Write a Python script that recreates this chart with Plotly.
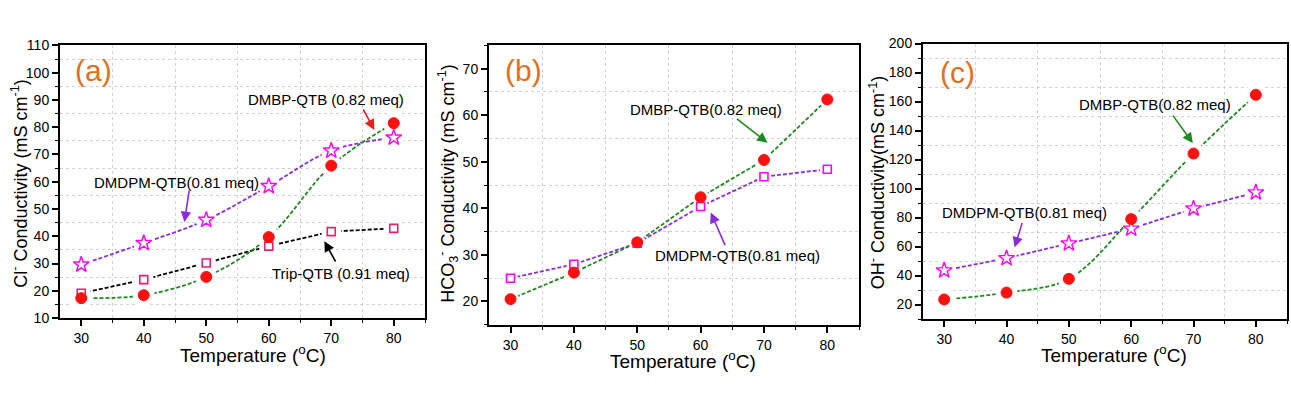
import plotly.graph_objects as go

# ---------------- data ----------------
temps = [30, 40, 50, 60, 70, 80]

a_dmbp = [17.3, 18.4, 25.1, 39.7, 65.9, 81.5]
a_dmdpm = [29.6, 37.5, 46.0, 58.4, 71.4, 76.2]
a_trip = [19.1, 24.1, 30.2, 36.4, 41.7, 42.9]

b_dmbp = [20.5, 26.2, 32.7, 42.4, 50.4, 63.4]
b_dmdpm = [25.0, 28.0, 32.5, 40.4, 46.8, 48.4]

c_dmbp = [23.5, 28.2, 37.7, 78.9, 124.1, 164.6]
c_dmdpm = [43.5, 51.9, 62.1, 72.3, 86.2, 97.3]

FONT = "Liberation Sans, Arial, sans-serif"
GREEN = "#1f8a1f"
PURPLE = "#8a2be2"
BLACK = "#000000"
RED = "#ff1010"
MAGENTA = "#ff00ff"
CRIMSON = "#e8206e"
ORANGE = "#e07020"
DASH = "4px,2px"
GRID = "#d2d2d2"

fig = go.Figure()


def add_series(xa, ya, y, line_color, shape, halo):
    fig.add_trace(go.Scatter(
        x=temps, y=y, mode="lines", xaxis=xa, yaxis=ya,
        line=dict(color=line_color, width=1.8, dash=DASH, shape=shape, smoothing=1.0),
        hoverinfo="skip", showlegend=False))
    fig.add_trace(go.Scatter(
        x=temps, y=y, mode="markers", xaxis=xa, yaxis=ya,
        marker=dict(symbol="circle", size=halo, color="white", line=dict(width=0)),
        hoverinfo="skip", showlegend=False))


def add_markers(xa, ya, y, m_symbol, m_color, m_size, lw):
    fig.add_trace(go.Scatter(
        x=temps, y=y, mode="markers", xaxis=xa, yaxis=ya,
        marker=dict(symbol=m_symbol, size=m_size, color=m_color,
                    line=dict(color=m_color, width=lw)),
        showlegend=False))


# panel (a)
add_series("x", "y", a_trip, BLACK, "linear", 20)
add_series("x", "y", a_dmdpm, PURPLE, "spline", 21)
add_series("x", "y", a_dmbp, GREEN, "spline", 22)
add_markers("x", "y", a_trip, "square-open", CRIMSON, 8, 1.6)
add_markers("x", "y", a_dmdpm, "star-open", MAGENTA, 12, 1.4)
add_markers("x", "y", a_dmbp, "circle", RED, 11, 1)

# panel (b)
add_series("x2", "y2", b_dmdpm, PURPLE, "linear", 15)
add_series("x2", "y2", b_dmbp, GREEN, "linear", 17)
add_markers("x2", "y2", b_dmdpm, "square-open", MAGENTA, 8, 1.6)
add_markers("x2", "y2", b_dmbp, "circle", RED, 11, 1)

# panel (c)
add_series("x3", "y3", c_dmdpm, PURPLE, "linear", 21)
add_series("x3", "y3", c_dmbp, GREEN, "spline", 22)
add_markers("x3", "y3", c_dmdpm, "star-open", MAGENTA, 12, 1.4)
add_markers("x3", "y3", c_dmbp, "circle", RED, 11, 1)


def xaxis(domain, anchor):
    return dict(
        domain=domain, anchor=anchor, range=[26.6, 85],
        tickmode="linear", tick0=30, dtick=10,
        ticks="outside", ticklen=6, tickwidth=1.5, tickcolor="black",
        showline=True, linecolor="black", linewidth=2, mirror=True,
        showgrid=False, zeroline=False,
        tickfont=dict(family=FONT, size=14, color="black"),
        minor=dict(dtick=10, tick0=25, ticks="outside", ticklen=3, tickwidth=1.2,
                   tickcolor="black", showgrid=True, gridcolor=GRID,
                   griddash="dot", gridwidth=1),
    )


def yaxis(domain, anchor, rng, t0, dtick, mt0, minor):
    return dict(
        domain=domain, anchor=anchor, range=rng, tickmode="linear",
        tick0=t0, dtick=dtick,
        ticks="outside", ticklen=6, tickwidth=1.5, tickcolor="black",
        showline=True, linecolor="black", linewidth=2, mirror=True,
        showgrid=False, zeroline=False,
        tickfont=dict(family=FONT, size=14, color="black"),
        minor=dict(dtick=minor, tick0=mt0, ticks="outside", ticklen=3, tickwidth=1.2,
                   tickcolor="black", showgrid=True, gridcolor=GRID,
                   griddash="dot", gridwidth=1),
    )


W, H = 1291, 399


def dx(px0, px1):
    return [px0 / W, px1 / W]


def dy(py_bottom, py_top):
    return [1 - py_bottom / H, 1 - py_top / H]


fig.update_layout(
    width=W, height=H,
    margin=dict(l=0, r=0, t=0, b=0),
    paper_bgcolor="white", plot_bgcolor="white",
    font=dict(family=FONT, color="black"),
    xaxis=xaxis(dx(60, 425), "y"),
    yaxis=yaxis(dy(323, 39), "x", [10, 110], 10, 10, 15, 10),
    xaxis2=xaxis(dx(489, 859), "y2"),
    yaxis2=yaxis(dy(330, 39), "x2", [15, 75], 20, 10, 15, 10),
    xaxis3=xaxis(dx(923, 1287), "y3"),
    yaxis3=yaxis(dy(324, 37), "x3", [10, 200], 20, 20, 10, 20),
)

ann = []
# panel labels
for lab, xr, yr, xd, yd in [("(a)", "x domain", "y domain", 0.036, 0.908),
                            ("(b)", "x2 domain", "y2 domain", 0.037, 0.91),
                            ("(c)", "x3 domain", "y3 domain", 0.042, 0.896)]:
    ann.append(dict(text=lab, xref=xr, yref=yr, x=xd, y=yd, xanchor="left",
                    yanchor="middle", showarrow=False,
                    font=dict(family=FONT, size=30, color=ORANGE)))

# axis titles
xt = "Temperature (<sup>o</sup>C)"
for xp, yp in [(253, 360), (682.5, 367), (1114, 360)]:
    ann.append(dict(text=xt, xref="paper", yref="paper", x=xp / W, y=1 - yp / H,
                    xanchor="center", yanchor="middle", showarrow=False,
                    font=dict(family=FONT, size=19, color="black")))
ytitles = ["Cl<sup>-</sup> Conductivity (mS cm<sup>-1</sup>)",
           "HCO<sub>3</sub><sup>-</sup> Conductivity (mS cm<sup>-1</sup>)",
           "OH<sup>-</sup> Conductivity(mS cm<sup>-1</sup>)"]
for t, (xp, yp) in zip(ytitles, [(20, 183), (448, 183), (877, 182.5)]):
    ann.append(dict(text=t, xref="paper", yref="paper", x=xp / W, y=1 - yp / H,
                    xanchor="center", yanchor="middle", showarrow=False, textangle=-90,
                    font=dict(family=FONT, size=18, color="black")))

# series labels
labels = [
    ("DMBP-QTB (0.82 meq)", "x", "y", 69.2, 90.3),
    ("DMDPM-QTB(0.81 meq)", "x", "y", 45.2, 59.6),
    ("Trip-QTB (0.91 meq)", "x", "y", 71.6, 26.5),
    ("DMBP-QTB(0.82 meq)", "x2", "y2", 60.8, 61.3),
    ("DMDPM-QTB(0.81 meq)", "x2", "y2", 65.9, 29.8),
    ("DMBP-QTB(0.82 meq)", "x3", "y3", 63.9, 157.9),
    ("DMDPM-QTB(0.81 meq)", "x3", "y3", 42.9, 83.3),
]
for t, xr, yr, xd, yd in labels:
    ann.append(dict(text=t, xref=xr, yref=yr, x=xd, y=yd, showarrow=False,
                    xanchor="center", yanchor="middle",
                    font=dict(family=FONT, size=15, color="black")))

# arrows
arrows = [
    ("x", "y", 76.9, 79.0, -12, -22, "#ee1c1c"),
    ("x", "y", 46.5, 45.2, 5, -33, PURPLE),
    ("x", "y", 68.9, 38.2, 12, 22, BLACK),
    ("x2", "y2", 70.55, 54.1, -32, -25, GREEN),
    ("x2", "y2", 61.6, 39.1, 15, 34, PURPLE),
    ("x3", "y3", 69.9, 131.3, -21, -29, GREEN),
    ("x3", "y3", 41.3, 59.4, 8, -26, PURPLE),
]
for xr, yr, xd, yd, axo, ayo, col in arrows:
    ann.append(dict(text="", xref=xr, yref=yr, x=xd, y=yd, ax=axo, ay=ayo,
                    showarrow=True, arrowhead=2, arrowsize=1.3, arrowwidth=1.6,
                    arrowcolor=col))

fig.update_layout(annotations=ann)
fig.write_html("out.html", config={"displayModeBar": False},
               post_script="document.body.style.margin='0';document.body.style.overflow='hidden';")
